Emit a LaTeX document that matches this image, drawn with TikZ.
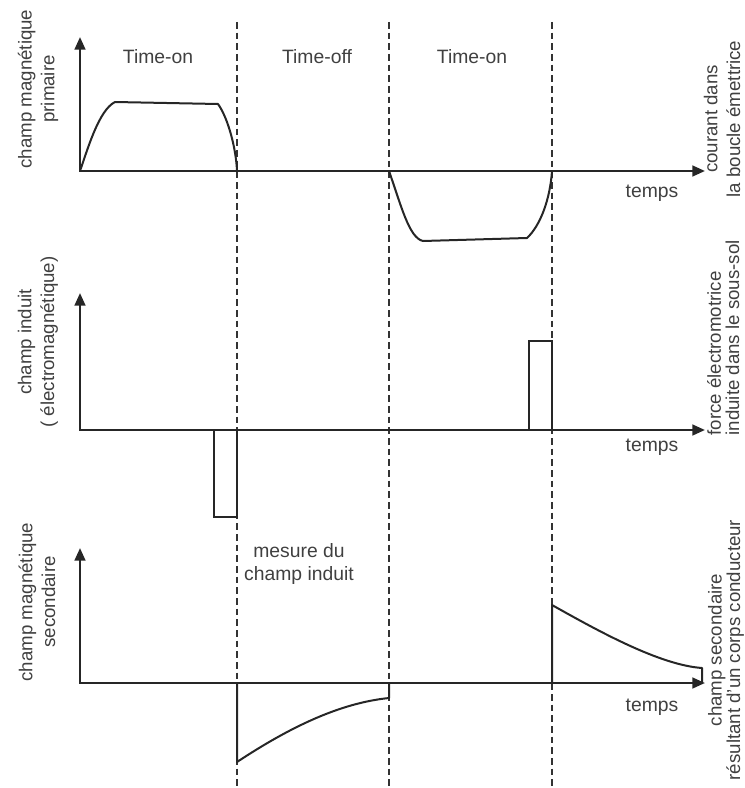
\documentclass[tikz,border=0pt]{standalone}
\usepackage{fontspec}
\setmainfont{Liberation Sans}
\usetikzlibrary{arrows.meta}

\tikzset{
  axis/.style={line width=1.9pt, draw=black!85, {Triangle[length=9.5pt,width=8pt]}-{Triangle[length=9.5pt,width=8pt]}},
  signal/.style={line width=1.5pt, draw=black!85, line join=round},
  pulse/.style={line width=1.1pt, draw=black!85},
  divider/.style={line width=1.5pt, draw=black!80, dash pattern=on 5pt off 3pt},
  lbl/.style={text=black!75, font=\fontsize{14.5}{17}\selectfont, inner sep=1pt},
  vlbl/.style={text=black!75, font=\fontsize{14}{17}\selectfont, rotate=90, align=center, inner sep=1pt},
  tight/.style={font=\fontsize{14}{13.8}\selectfont},
}

\begin{document}
\begin{tikzpicture}[x=0.75pt,y=-0.75pt]
\useasboundingbox (0,0) rectangle (745,788);

% phase boundaries
\coordinate (d1t) at (237,22);  \coordinate (d1b) at (237,786);
\coordinate (d2t) at (389,22);  \coordinate (d2b) at (389,786);
\coordinate (d3t) at (552,22);  \coordinate (d3b) at (552,786);
\draw[divider] (d1t) -- (d1b);
\draw[divider] (d2t) -- (d2b);
\draw[divider] (d3t) -- (d3b);

% ---------- primary field ----------
\coordinate (oA) at (80,171); \coordinate (yA) at (80,37); \coordinate (xA) at (705,171);
\draw[axis] (yA) -- (oA) -- (xA);
\draw[signal] (oA) .. controls (88,148) and (99,110) .. (115,102)
  -- (218,104) .. controls (228,118) and (236,148) .. (237,171);
\draw[signal] (389,171) .. controls (401,205) and (409,238) .. (423,241)
  -- (527,238) .. controls (540,226) and (550,200) .. (552,171);

\node[lbl] (onA) at (158,57) {Time-on};
\node[lbl] (off) at (317,57) {Time-off};
\node[lbl] (onB) at (472,57) {Time-on};
\node[lbl] (tA) at (652,193) {temps};
\node[vlbl] (yAl) at (38,89) {champ magnétique\\primaire};
\node[vlbl] (xAl) at (722,119) {courant dans\\la boucle émettrice};

% ---------- induced field ----------
\coordinate (oB) at (80,430); \coordinate (yB) at (80,293); \coordinate (xB) at (705,430);
\draw[axis] (yB) -- (oB) -- (xB);
\draw[pulse] (237,430) -- (237,517) -- (214,517) -- (214,430);
\draw[pulse] (529,430) -- (529,341) -- (552,341) -- (552,430);

\node[lbl] (tB) at (652,447) {temps};
\node[vlbl] (yBl) at (38,342) {champ induit\\( électromagnétique)};
\node[vlbl, tight, align=left, anchor=south west] (xBl) at (741,437) {force électromotrice\\induite dans le sous-sol};

% ---------- secondary field ----------
\coordinate (oC) at (80,683); \coordinate (yC) at (80,548); \coordinate (xC) at (705,683);
\draw[axis] (yC) -- (oC) -- (xC);
\draw[signal] (237,683) -- (237,762) .. controls (290,727) and (340,703) .. (389,698) -- (389,683);
\draw[signal] (552,683) -- (552,605) .. controls (600,632) and (660,665) .. (702,668) -- (702,683);

\node[lbl, align=center] (mes) at (299,564) {mesure du\\champ induit};
\node[lbl] (tC) at (652,707) {temps};
\node[vlbl] (yCl) at (37,602) {champ magnétique\\secondaire};
\node[vlbl, tight] (xCl) at (726,650) {champ secondaire\\résultant d'un corps conducteur};
\end{tikzpicture}
\end{document}
